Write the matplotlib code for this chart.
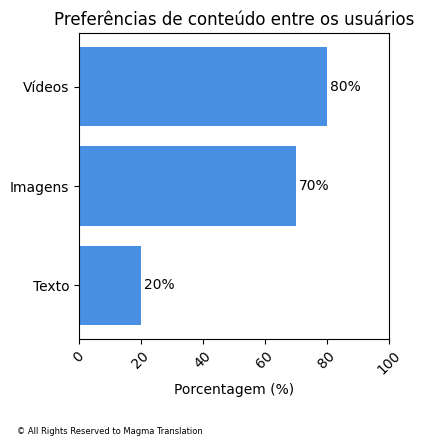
import matplotlib.pyplot as plt

categorias = ["Texto", "Imagens", "Vídeos"]
valores = [20, 70, 80]

fig = plt.figure(figsize=(4.24, 4.47), dpi=100)
ax = fig.add_axes([0.186, 0.2416, 0.731, 0.6844])

bars = ax.barh(categorias, valores, color="#4a90e2")
for b, v in zip(bars, valores):
    ax.text(b.get_width() + 1, b.get_y() + b.get_height() / 2, f"{v}%",
            va="center", ha="left", fontsize=10)

ax.set_xlim(0, 100)
ax.set_xlabel("Porcentagem (%)")
ax.set_title("Preferências de conteúdo entre os usuários")
plt.setp(ax.get_xticklabels(), rotation=45)

fig.text(0.04, 0.03, "© All Rights Reserved to Magma Translation", fontsize=6)

fig.savefig("out.png", dpi=100)
